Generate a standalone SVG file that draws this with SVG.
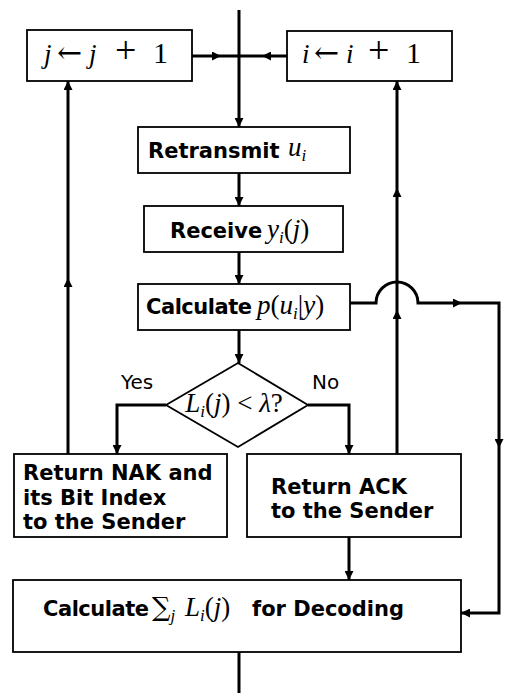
<svg xmlns="http://www.w3.org/2000/svg" width="505" height="693" viewBox="0 0 505 693">
<style>
.box{fill:#fff;stroke:#000;stroke-width:1.8}
.ln{fill:none;stroke:#000;stroke-width:3}
.b{font-family:"DejaVu Sans",Verdana,sans-serif;font-weight:bold;font-size:21px;fill:#000}
.r{font-family:"DejaVu Sans",Verdana,sans-serif;font-size:20px;fill:#000}
.m{font-family:"Liberation Serif","DejaVu Serif",serif;font-style:italic;font-size:27px;fill:#000}
.n{font-style:normal}
.s{font-size:17px}
.ar{font-family:"DejaVu Serif",serif;font-style:normal}
</style>
<defs>
<marker id="ar" markerUnits="userSpaceOnUse" markerWidth="10" markerHeight="9" refX="9" refY="4.5" orient="auto">
<path d="M0,0 L9,4.5 L0,9 z" fill="#000"/>
</marker>
</defs>
<rect width="505" height="693" fill="#fff"/>
<g id="connectors">
<path class="ln" d="M239,10 L239,127" marker-end="url(#ar)"/>
<path class="ln" d="M192,56 L221,56 L239,56" marker-mid="url(#ar)"/>
<path class="ln" d="M287,56 L262,56 L239,56" marker-mid="url(#ar)"/>
<path class="ln" d="M239,173 L239,206" marker-end="url(#ar)"/>
<path class="ln" d="M239,252 L239,284" marker-end="url(#ar)"/>
<path class="ln" d="M239,330 L239,363" marker-end="url(#ar)"/>
<path class="ln" d="M166,405 L117,405 L117,454" marker-end="url(#ar)"/>
<path class="ln" d="M308,405 L349,405 L349,454" marker-end="url(#ar)"/>
<path class="ln" d="M349,537 L349,580" marker-end="url(#ar)"/>
<path class="ln" d="M239,652 L239,693"/>
<path class="ln" d="M68,454 L68,278 L68,81" marker-mid="url(#ar)" marker-end="url(#ar)"/>
<path class="ln" d="M397,454 L397,310 L397,188 L397,81" marker-mid="url(#ar)" marker-end="url(#ar)"/>
<path class="ln" d="M350,303 L376,303 A21,21 0 0 1 418,303 L462,303" marker-end="url(#ar)"/>
<path class="ln" d="M462,303 L499,303 L499,448" marker-end="url(#ar)"/>
<path class="ln" d="M499,448 L499,613 L461,613" marker-end="url(#ar)"/>
</g>
<g id="j-inc">
<rect class="box" x="27" y="30" width="165" height="51"/>
<text class="m" y="63" font-size="28"><tspan x="44">j</tspan><tspan class="ar" x="57" font-size="30">←</tspan><tspan x="89">j</tspan><tspan class="n" x="115" font-size="38">+</tspan><tspan class="n" x="153" font-size="30">1</tspan></text>
</g>
<g id="i-inc">
<rect class="box" x="287" y="31" width="165" height="50"/>
<text class="m" y="63" font-size="28"><tspan x="302">i</tspan><tspan class="ar" x="314" font-size="30">←</tspan><tspan x="346">i</tspan><tspan class="n" x="368" font-size="38">+</tspan><tspan class="n" x="406" font-size="30">1</tspan></text>
</g>
<g id="retransmit">
<rect class="box" x="138" y="127" width="212" height="46"/>
<text class="b" x="148" y="158">Retransmit</text>
<text class="m" x="288" y="156">u<tspan class="s" dy="5">i</tspan></text>
</g>
<g id="receive">
<rect class="box" x="144" y="206" width="199" height="46"/>
<text class="b" x="170" y="238">Receive</text>
<text class="m" x="267" y="238">y<tspan class="s" dy="5">i</tspan><tspan class="n" dy="-5">(</tspan>j<tspan class="n">)</tspan></text>
</g>
<g id="calc-p">
<rect class="box" x="138" y="284" width="212" height="46"/>
<text class="b" x="146" y="314" textLength="106">Calculate</text>
<text class="m" x="257" y="314">p<tspan class="n">(</tspan>u<tspan class="s" dy="5">i</tspan><tspan class="n" dy="-5">|</tspan>y<tspan class="n">)</tspan></text>
</g>
<g id="decision">
<polygon class="box" points="166,405 238,363 308,405 238,447"/>
<text class="m" x="234" y="412" text-anchor="middle" font-size="24">L<tspan class="s" dy="5">i</tspan><tspan class="n" dy="-5">(</tspan>j<tspan class="n">) &lt; </tspan>λ<tspan class="n">?</tspan></text>
<text class="r" x="121" y="389">Yes</text>
<text class="r" x="312" y="389">No</text>
</g>
<g id="nak">
<rect class="box" x="14" y="454" width="213" height="83"/>
<text class="b" x="23" y="480">Return NAK and</text>
<text class="b" x="23" y="505">its Bit Index</text>
<text class="b" x="23" y="529">to the Sender</text>
</g>
<g id="ack">
<rect class="box" x="247" y="454" width="214" height="83"/>
<text class="b" x="271" y="494">Return ACK</text>
<text class="b" x="271" y="518">to the Sender</text>
</g>
<g id="calc-sum">
<rect class="box" x="13" y="580" width="448" height="72"/>
<text class="b" x="43" y="616" textLength="106">Calculate</text>
<text class="m" y="616" font-size="30"><tspan class="ar" x="152" font-size="26">∑</tspan><tspan class="s" dy="5">j</tspan><tspan x="185" dy="-5">L</tspan><tspan class="s" dy="5">i</tspan><tspan class="n" dy="-5">(</tspan>j<tspan class="n">)</tspan></text>
<text class="b" x="252" y="616">for Decoding</text>
</g>
</svg>
